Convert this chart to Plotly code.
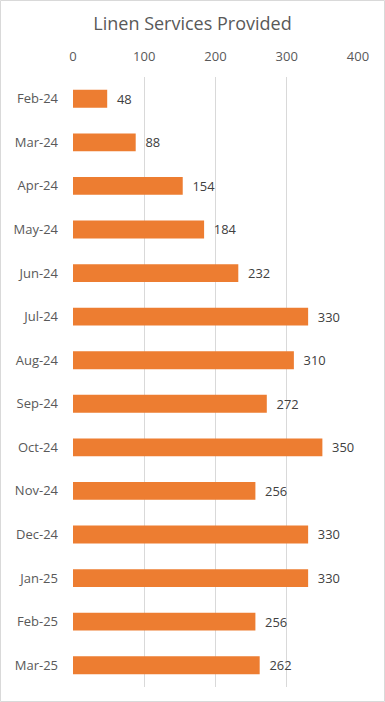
import plotly.graph_objects as go

months = ["Feb-24", "Mar-24", "Apr-24", "May-24", "Jun-24", "Jul-24", "Aug-24",
          "Sep-24", "Oct-24", "Nov-24", "Dec-24", "Jan-25", "Feb-25", "Mar-25"]
services = [48, 88, 154, 184, 232, 330, 310, 272, 350, 256, 330, 330, 256, 262]
x_ticks = [0, 100, 200, 300, 400]

W, H = 385, 702
L, R, T, B = 73, 27, 77, 15
pw, ph = W - L - R, H - T - B

fig = go.Figure(go.Bar(
    y=months, x=services, orientation="h",
    marker=dict(color="#ED7D31", line=dict(width=0)),
    text=["  " + str(v) for v in services], textposition="outside",
    textfont=dict(size=13, color="#404040", family="Open Sans"),
    cliponaxis=False,
))

fig.update_layout(
    template="none",
    width=W, height=H,
    margin=dict(l=L, r=R, t=T, b=B, autoexpand=False),
    paper_bgcolor="white", plot_bgcolor="white",
    bargap=0.59,
    showlegend=False,
    font=dict(family="Open Sans", color="#595959"),
    title=dict(text="Linen Services Provided", x=0.5, xanchor="center",
               y=1 - 24 / H, yanchor="middle",
               font=dict(size=18, color="#595959", family="Open Sans")),
    xaxis=dict(side="top", range=[0, 400], tickvals=x_ticks, automargin=False,
               showgrid=True, gridcolor="#D9D9D9", gridwidth=1,
               zeroline=False, showline=False, ticks="",
               tickfont=dict(size=13, color="#595959"), ticklabelstandoff=12),
    yaxis=dict(autorange="reversed", showgrid=False, zeroline=False, automargin=False,
               showline=False, ticks="",
               tickfont=dict(size=13, color="#595959"), ticklabelstandoff=14),
    shapes=[dict(type="rect", xref="paper", yref="paper",
                 x0=(-L + 0.5) / pw, x1=(W - L - 0.5) / pw,
                 y0=(-B + 0.5) / ph, y1=(H - B - 0.5) / ph,
                 line=dict(color="#D9D9D9", width=1), fillcolor="rgba(0,0,0,0)",
                 layer="below")],
)

fig.write_html("out.html", config={"displayModeBar": False},
               post_script="document.body.style.margin='0';document.body.style.overflow='hidden';")
